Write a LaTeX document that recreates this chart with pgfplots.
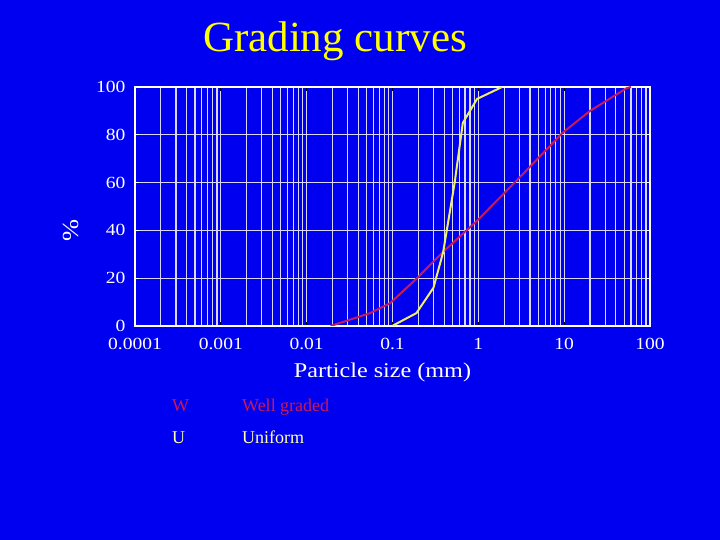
\documentclass[border=0pt]{standalone}
\usepackage{pgfplots}
\pgfplotsset{compat=1.18}
\usepackage{fontspec}
\setmainfont{Liberation Serif}
\newfontfamily\wide{Liberation Serif}[FakeStretch=1.15]
\definecolor{bg}{RGB}{0,0,240}
\definecolor{wg}{RGB}{200,25,90}
\definecolor{uf}{RGB}{240,240,100}
\definecolor{uftext}{RGB}{255,255,170}
\definecolor{gridc}{RGB}{215,215,255}
\definecolor{ttl}{RGB}{255,255,0}
\begin{document}
\begin{tikzpicture}
\fill[bg] (0,0) rectangle (720bp,540bp);
\node[anchor=base, inner sep=0, text=ttl, font=\fontsize{43bp}{48bp}\selectfont] at (335bp,488bp) {Grading curves};
\begin{axis}[at={(135bp,214bp)}, anchor=south west, scale only axis,
  width=515bp, height=239bp,
  xmode=log, xmin=1e-4, xmax=100, ymin=0, ymax=100,
  xtick={1e-4,1e-3,1e-2,1e-1,1,10,100},
  xticklabels={0.0001,0.001,0.01,0.1,1,10,100},
  ytick={0,20,40,60,80,100}, yticklabels={0,20,40,60,80,100},
  axis line style={white, line width=1.8pt},
  grid style={gridc, line width=1.2pt},
  xmajorgrids, xminorgrids, ymajorgrids,
  minor tick length=0pt, major tick length=4bp,
  xtick style={black, line width=1pt},
  ytick style={white, line width=1pt},
  tick label style={text=white, font=\wide\fontsize{17bp}{19bp}\selectfont},
  xticklabel style={yshift=-9bp},
  yticklabel style={xshift=-6bp},
  xlabel={Particle size (mm)},
  xlabel style={text=white, font=\wide\fontsize{21bp}{23bp}\selectfont, xshift=-10bp, yshift=-6bp},
  ylabel={\%},
  ylabel style={text=white, font=\wide\fontsize{23bp}{25bp}\selectfont, at={(axis description cs:-0.103,0.40)}},
]
\addplot[wg, line width=2pt] table {
x y
0.019 0
0.055 5.4
0.094 9.6
0.193 20
0.388 31
0.965 44
2.82 61
9.7 81
20 90
54 99.6
60 100
};
\addplot[uf, line width=2pt] table {
x y
0.099 0
0.19 5.4
0.30 16
0.39 31
0.53 60
0.66 85
0.965 95
1.89 100
};
\end{axis}
\node[anchor=base west, inner sep=0, text=wg, font=\fontsize{18bp}{20bp}\selectfont] at (172bp,128bp) {W};
\node[anchor=base west, inner sep=0, text=wg, font=\fontsize{18bp}{20bp}\selectfont] at (242bp,128bp) {Well graded};
\node[anchor=base west, inner sep=0, text=uftext, font=\fontsize{18bp}{20bp}\selectfont] at (172bp,96bp) {U};
\node[anchor=base west, inner sep=0, text=uftext, font=\fontsize{18bp}{20bp}\selectfont] at (242bp,96bp) {Uniform};
\pgfresetboundingbox
\path[use as bounding box] (0,0) rectangle (720bp,540bp);
\end{tikzpicture}
\end{document}
